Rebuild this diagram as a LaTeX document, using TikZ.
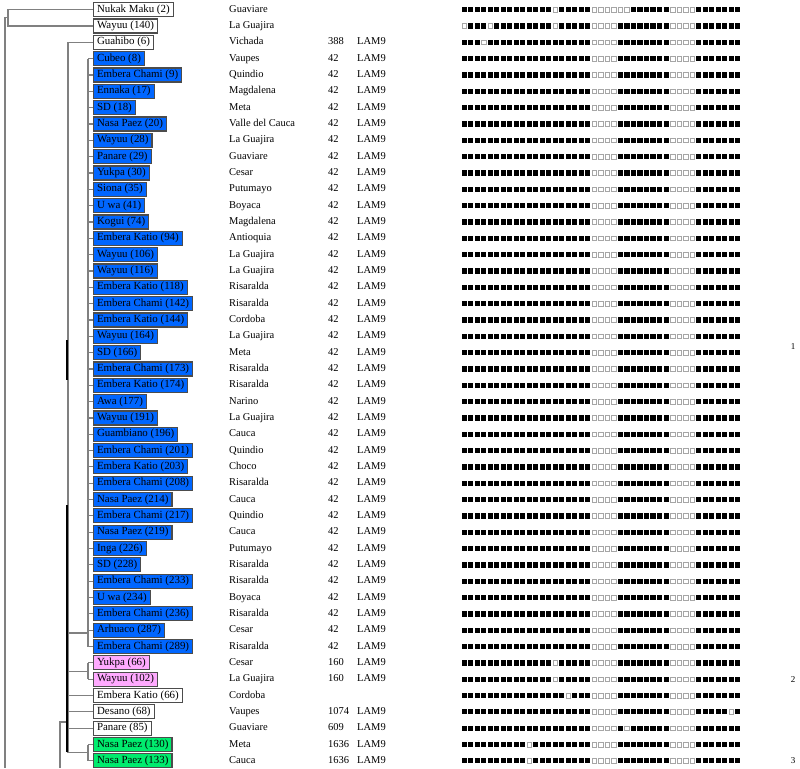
\documentclass[tikz,border=0pt]{standalone}
\usepackage{fontspec}
\setmainfont{Liberation Serif}
\definecolor{bluebox}{RGB}{0,102,255}
\definecolor{pinkbox}{RGB}{255,170,255}
\definecolor{greenbox}{RGB}{0,235,110}
\tikzset{
  iso/.style={draw=black!70, line width=1.1pt, anchor=west, inner xsep=3.5pt, inner ysep=2pt,
    text height=7.5pt, text depth=2.5pt, font=\fontsize{10.9}{12}\selectfont},
  colx/.style={anchor=west, inner sep=0pt, text height=7.5pt, text depth=2.5pt,
    font=\fontsize{10.5}{12}\selectfont},
  tree/.style={draw=black!50, line width=1.1pt},
  treedark/.style={draw=black, line width=1.4pt},
  sqon/.style={fill=black},
  sqoff/.style={fill=white, draw=black!35, line width=0.6pt},
  clus/.style={inner sep=0pt, font=\fontsize{9}{10}\selectfont},
}
\begin{document}
\begin{tikzpicture}[x=1pt,y=-1pt]
\useasboundingbox[fill=white] (0,0) rectangle (800,768);
\foreach \i/\nm/\cl/\loc/\sit/\lin/\abs in {
1/Nukak Maku (2)/white/Guaviare///{15,21,22,23,24,25,26,33,34,35,36},
2/Wayuu (140)/white/La Guajira///{1,5,15,21,22,23,24,33,34,35,36},
3/Guahibo (6)/white/Vichada/388/LAM9/{4,21,22,23,24,33,34,35,36},
4/Cubeo (8)/bluebox/Vaupes/42/LAM9/{21,22,23,24,33,34,35,36},
5/Embera Chami (9)/bluebox/Quindio/42/LAM9/{21,22,23,24,33,34,35,36},
6/Ennaka (17)/bluebox/Magdalena/42/LAM9/{21,22,23,24,33,34,35,36},
7/SD (18)/bluebox/Meta/42/LAM9/{21,22,23,24,33,34,35,36},
8/Nasa Paez (20)/bluebox/Valle del Cauca/42/LAM9/{21,22,23,24,33,34,35,36},
9/Wayuu (28)/bluebox/La Guajira/42/LAM9/{21,22,23,24,33,34,35,36},
10/Panare (29)/bluebox/Guaviare/42/LAM9/{21,22,23,24,33,34,35,36},
11/Yukpa (30)/bluebox/Cesar/42/LAM9/{21,22,23,24,33,34,35,36},
12/Siona (35)/bluebox/Putumayo/42/LAM9/{21,22,23,24,33,34,35,36},
13/U wa (41)/bluebox/Boyaca/42/LAM9/{21,22,23,24,33,34,35,36},
14/Kogui (74)/bluebox/Magdalena/42/LAM9/{21,22,23,24,33,34,35,36},
15/Embera Katio (94)/bluebox/Antioquia/42/LAM9/{21,22,23,24,33,34,35,36},
16/Wayuu (106)/bluebox/La Guajira/42/LAM9/{21,22,23,24,33,34,35,36},
17/Wayuu (116)/bluebox/La Guajira/42/LAM9/{21,22,23,24,33,34,35,36},
18/Embera Katio (118)/bluebox/Risaralda/42/LAM9/{21,22,23,24,33,34,35,36},
19/Embera Chami (142)/bluebox/Risaralda/42/LAM9/{21,22,23,24,33,34,35,36},
20/Embera Katio (144)/bluebox/Cordoba/42/LAM9/{21,22,23,24,33,34,35,36},
21/Wayuu (164)/bluebox/La Guajira/42/LAM9/{21,22,23,24,33,34,35,36},
22/SD (166)/bluebox/Meta/42/LAM9/{21,22,23,24,33,34,35,36},
23/Embera Chami (173)/bluebox/Risaralda/42/LAM9/{21,22,23,24,33,34,35,36},
24/Embera Katio (174)/bluebox/Risaralda/42/LAM9/{21,22,23,24,33,34,35,36},
25/Awa (177)/bluebox/Narino/42/LAM9/{21,22,23,24,33,34,35,36},
26/Wayuu (191)/bluebox/La Guajira/42/LAM9/{21,22,23,24,33,34,35,36},
27/Guambiano (196)/bluebox/Cauca/42/LAM9/{21,22,23,24,33,34,35,36},
28/Embera Chami (201)/bluebox/Quindio/42/LAM9/{21,22,23,24,33,34,35,36},
29/Embera Katio (203)/bluebox/Choco/42/LAM9/{21,22,23,24,33,34,35,36},
30/Embera Chami (208)/bluebox/Risaralda/42/LAM9/{21,22,23,24,33,34,35,36},
31/Nasa Paez (214)/bluebox/Cauca/42/LAM9/{21,22,23,24,33,34,35,36},
32/Embera Chami (217)/bluebox/Quindio/42/LAM9/{21,22,23,24,33,34,35,36},
33/Nasa Paez (219)/bluebox/Cauca/42/LAM9/{21,22,23,24,33,34,35,36},
34/Inga (226)/bluebox/Putumayo/42/LAM9/{21,22,23,24,33,34,35,36},
35/SD (228)/bluebox/Risaralda/42/LAM9/{21,22,23,24,33,34,35,36},
36/Embera Chami (233)/bluebox/Risaralda/42/LAM9/{21,22,23,24,33,34,35,36},
37/U wa (234)/bluebox/Boyaca/42/LAM9/{21,22,23,24,33,34,35,36},
38/Embera Chami (236)/bluebox/Risaralda/42/LAM9/{21,22,23,24,33,34,35,36},
39/Arhuaco (287)/bluebox/Cesar/42/LAM9/{21,22,23,24,33,34,35,36},
40/Embera Chami (289)/bluebox/Risaralda/42/LAM9/{21,22,23,24,33,34,35,36},
41/Yukpa (66)/pinkbox/Cesar/160/LAM9/{15,21,22,23,24,33,34,35,36},
42/Wayuu (102)/pinkbox/La Guajira/160/LAM9/{15,21,22,23,24,33,34,35,36},
43/Embera Katio (66)/white/Cordoba///{17,21,22,23,24,33,34,35,36},
44/Desano (68)/white/Vaupes/1074/LAM9/{21,22,23,24,33,34,35,36,42},
45/Panare (85)/white/Guaviare/609/LAM9/{21,22,23,24,26,33,34,35,36},
46/Nasa Paez (130)/greenbox/Meta/1636/LAM9/{11,21,22,23,24,33,34,35,36},
47/Nasa Paez (133)/greenbox/Cauca/1636/LAM9/{11,21,22,23,24,33,34,35,36}%
}{
  \pgfmathsetmacro\yy{9.7+(\i-1)*16.33}
  \node[iso, fill=\cl] (r\i) at (93,\yy) {\nm};
  \node[colx] (l\i) at (229,\yy) {\loc};
  \node[colx] (s\i) at (328,\yy) {\sit};
  \node[colx] (g\i) at (357,\yy) {\lin};
  \foreach \k in {1,...,43}
    \fill[sqon] ({461.7+(\k-1)*6.51},{\yy-2.6}) rectangle ++(5.1,5.2);
  \foreach \k in \abs
    \filldraw[sqoff] ({461.7+(\k-1)*6.51+0.3},{\yy-2.3}) rectangle ++(4.5,4.6);
}
% cluster labels
\node[clus] (k1) at (793,347) {1};
\node[clus] (k2) at (793,680) {2};
\node[clus] (k3) at (793,761) {3};
% tree
\coordinate (nk) at (8,17.5);
\coordinate (root) at (5,17.5);
\coordinate (rootend) at (5,768);
\draw[tree] (r1.west) -| (nk) |- (r2.west);
\draw[tree] (nk) -- (root) -- (rootend);
\coordinate (tx) at (68,0);
\coordinate (bx) at (88,0);
\coordinate (bj) at (88,633);
\coordinate (pj) at (88,671.2);
\coordinate (nj) at (88,752.9);
\draw[tree] (r3.west) -- (tx |- r3.west) -- (tx |- nj);
\draw[tree] (bx |- r4.west) -- (bx |- r40.west);
\foreach \i in {4,...,40} \draw[tree] (bx |- r\i.west) -- (r\i.west);
\draw[tree] (bj) -- (tx |- bj);
\draw[tree] (bx |- r41.west) -- (bx |- r42.west);
\foreach \i in {41,42} \draw[tree] (bx |- r\i.west) -- (r\i.west);
\draw[tree] (pj) -- (tx |- pj);
\foreach \i in {43,44,45} \draw[tree] (tx |- r\i.west) -- (r\i.west);
\draw[tree] (bx |- r46.west) -- (bx |- r47.west);
\foreach \i in {46,47} \draw[tree] (bx |- r\i.west) -- (r\i.west);
\draw[tree] (nj) -- (tx |- nj);
\coordinate (d1) at (60,722);
\coordinate (d2) at (60,768);
\draw[tree] (tx |- d1) -- (d1) -- (d2);
\coordinate (k1a) at (67,340);
\coordinate (k1b) at (67,380);
\coordinate (k2a) at (67,505);
\coordinate (k2b) at (67,752);
\draw[treedark] (k1a) -- (k1b);
\draw[treedark] (k2a) -- (k2b);
\end{tikzpicture}
\end{document}
